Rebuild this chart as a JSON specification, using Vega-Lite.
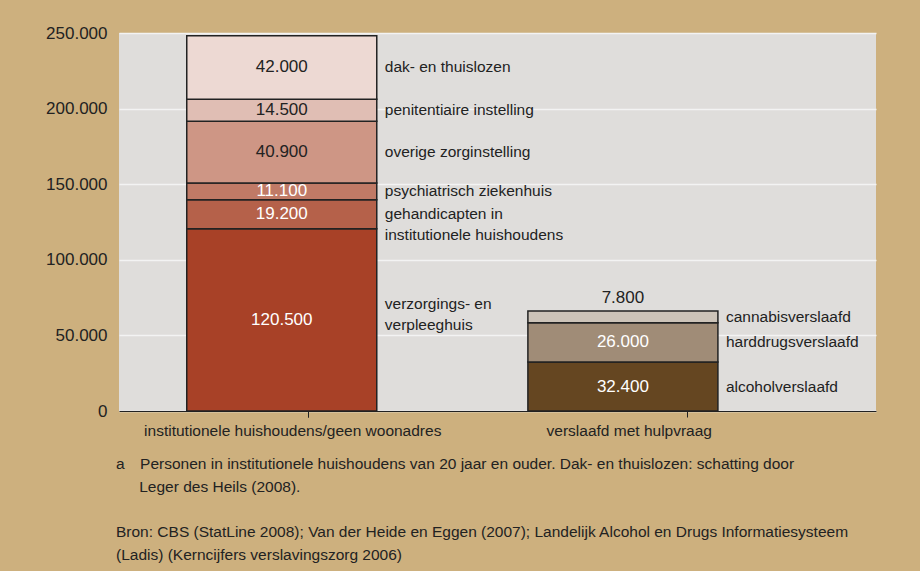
{
  "$schema": "https://vega.github.io/schema/vega-lite/v6.json",
  "width": 757,
  "height": 378,
  "autosize": {"type": "none"},
  "padding": {"left": 119, "top": 33, "right": 44, "bottom": 160},
  "background": "#cdb07e",
  "title": {
    "text": ["a\u2002\u2002Personen in institutionele huishoudens van 20 jaar en ouder. Dak- en thuislozen: schatting door", "\u200b\u2002\u2002\u2002Leger des Heils (2008)."],
    "subtitle": ["Bron: CBS (StatLine 2008); Van der Heide en Eggen (2007); Landelijk Alcohol en Drugs Informatiesysteem", "(Ladis) (Kerncijfers verslavingszorg 2006)"],
    "orient": "bottom",
    "anchor": "start",
    "frame": "group",
    "offset": 18,
    "dx": -3,
    "font": "Liberation Sans",
    "fontSize": 15.5,
    "fontWeight": "normal",
    "color": "#222222",
    "lineHeight": 23,
    "subtitleFont": "Liberation Sans",
    "subtitleFontSize": 15.5,
    "subtitleColor": "#222222",
    "subtitleLineHeight": 23,
    "subtitlePadding": 30
  },
  "data": {
    "values": [
      {"group": "institutionele huishoudens/geen woonadres", "cat": "verzorgings- en\nverpleeghuis", "rank": 1, "value": 120500},
      {"group": "institutionele huishoudens/geen woonadres", "cat": "gehandicapten in\ninstitutionele huishoudens", "rank": 2, "value": 19200},
      {"group": "institutionele huishoudens/geen woonadres", "cat": "psychiatrisch ziekenhuis", "rank": 3, "value": 11100},
      {"group": "institutionele huishoudens/geen woonadres", "cat": "overige zorginstelling", "rank": 4, "value": 40900},
      {"group": "institutionele huishoudens/geen woonadres", "cat": "penitentiaire instelling", "rank": 5, "value": 14500},
      {"group": "institutionele huishoudens/geen woonadres", "cat": "dak- en thuislozen", "rank": 6, "value": 42000},
      {"group": "verslaafd met hulpvraag", "cat": "alcoholverslaafd", "rank": 1, "value": 32400},
      {"group": "verslaafd met hulpvraag", "cat": "harddrugsverslaafd", "rank": 2, "value": 26000},
      {"group": "verslaafd met hulpvraag", "cat": "cannabisverslaafd", "rank": 3, "value": 7800}
    ]
  },
  "layer": [
    {
      "layer": [
        {
          "mark": {"type": "bar", "stroke": "#222222", "strokeWidth": 1.5},
          "encoding": {
            "x": {"field": "group", "type": "nominal", "sort": null, "title": null, "axis": null,
                  "scale": {"paddingInner": 0.443, "paddingOuter": 0.331, "align": 0.3}},
            "y": {"field": "value", "type": "quantitative", "stack": "zero", "title": null,
                  "scale": {"domain": [0, 250000], "nice": false},
                  "axis": {"values": [0, 50000, 100000, 150000, 200000, 250000], "format": ",.0f"}},
            "color": {"field": "cat", "type": "nominal", "legend": null,
                      "scale": {"domain": ["verzorgings- en\nverpleeghuis", "gehandicapten in\ninstitutionele huishoudens", "psychiatrisch ziekenhuis", "overige zorginstelling", "penitentiaire instelling", "dak- en thuislozen", "alcoholverslaafd", "harddrugsverslaafd", "cannabisverslaafd"],
                                "range": ["#a84127", "#b5614a", "#c07a66", "#ce9685", "#e0beb4", "#edd9d3", "#654621", "#a08c77", "#ccc3b8"]}},
            "order": {"field": "rank", "type": "quantitative"}
          }
        },
        {
          "mark": {"type": "text", "font": "Liberation Sans", "fontSize": 17, "baseline": "middle", "align": "center"},
          "encoding": {
            "x": {"field": "group", "type": "nominal", "sort": null, "title": null, "axis": null},
            "y": {"field": "value", "type": "quantitative", "stack": "zero", "bandPosition": 0.5, "title": null},
            "detail": {"field": "cat", "type": "nominal"},
            "order": {"field": "rank", "type": "quantitative"},
            "text": {"condition": {"test": "datum.cat !== 'cannabisverslaafd'", "field": "value", "type": "quantitative", "format": ",.0f"}, "value": ""},
            "color": {"condition": {"test": "indexof(['dak- en thuislozen','penitentiaire instelling','overige zorginstelling'], datum.cat) >= 0", "value": "#222222"}, "value": "#ffffff"}
          }
        },
        {
          "mark": {"type": "text", "font": "Liberation Sans", "fontSize": 17, "baseline": "bottom", "align": "center", "dy": -4, "color": "#222222"},
          "encoding": {
            "x": {"field": "group", "type": "nominal", "sort": null, "title": null, "axis": null},
            "y": {"field": "value", "type": "quantitative", "stack": "zero", "title": null},
            "detail": {"field": "cat", "type": "nominal"},
            "order": {"field": "rank", "type": "quantitative"},
            "text": {"condition": {"test": "datum.cat === 'cannabisverslaafd'", "field": "value", "type": "quantitative", "format": ",.0f"}, "value": ""}
          }
        },
        {
          "mark": {"type": "text", "font": "Liberation Sans", "fontSize": 15.5, "baseline": "middle", "align": "left", "dx": 8, "lineBreak": "\n", "lineHeight": 21, "color": "#222222"},
          "encoding": {
            "x": {"field": "group", "type": "nominal", "sort": null, "title": null, "axis": null, "bandPosition": 1},
            "y": {"field": "value", "type": "quantitative", "stack": "zero", "bandPosition": 0.5, "title": null},
            "detail": {"field": "cat", "type": "nominal"},
            "order": {"field": "rank", "type": "quantitative"},
            "text": {"condition": {"test": "datum.cat !== 'verzorgings- en\\nverpleeghuis'", "field": "cat", "type": "nominal"}, "value": ""}
          }
        },
        {
          "mark": {"type": "text", "font": "Liberation Sans", "fontSize": 15.5, "baseline": "middle", "align": "left", "dx": 8, "dy": -16, "lineBreak": "\n", "lineHeight": 21, "color": "#222222"},
          "encoding": {
            "x": {"field": "group", "type": "nominal", "sort": null, "title": null, "axis": null, "bandPosition": 1},
            "y": {"field": "value", "type": "quantitative", "stack": "zero", "bandPosition": 0.5, "title": null},
            "detail": {"field": "cat", "type": "nominal"},
            "order": {"field": "rank", "type": "quantitative"},
            "text": {"condition": {"test": "datum.cat === 'verzorgings- en\\nverpleeghuis'", "field": "cat", "type": "nominal"}, "value": ""}
          }
        }
      ]
    },
    {
      "mark": {"type": "text", "text": ""},
      "encoding": {
        "x": {"field": "group", "type": "nominal", "sort": null, "title": null,
              "scale": {"paddingInner": 0, "paddingOuter": 0},
              "axis": {"orient": "bottom", "labelOffset": {"condition": {"test": "datum.value === 'verslaafd met hulpvraag'", "value": -58}, "value": -16}}}
      }
    }
  ],
  "resolve": {"scale": {"x": "independent"}},
  "config": {
    "view": {"fill": "#dfdddb", "stroke": null},
    "locale": {"number": {"decimal": ",", "thousands": ".", "grouping": [3], "currency": ["€", ""]}},
    "axisY": {
      "domain": false, "ticks": false, "grid": true, "gridColor": "#f3f3f3", "gridWidth": 1.5,
      "labelFont": "Liberation Sans", "labelFontSize": 17, "labelColor": "#222222", "labelPadding": 12
    },
    "axisX": {
      "domain": true, "domainColor": "#222222", "domainWidth": 1, "ticks": true, "tickColor": "#222222",
      "tickSize": 6, "tickBand": "extent", "grid": false, "labelAngle": 0, "labelLimit": 0,
      "labelFont": "Liberation Sans", "labelFontSize": 15.5,
      "labelColor": "#222222", "labelPadding": 6
    }
  }
}
